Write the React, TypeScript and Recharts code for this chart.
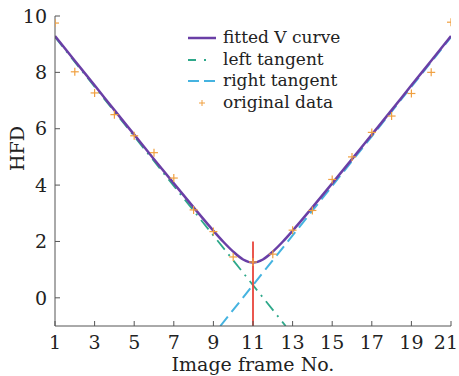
import { ComposedChart, Line, Scatter, XAxis, YAxis, Legend } from 'recharts';

// original HFD measurements per image frame
const frames = [1, 2, 3, 4, 5, 6, 7, 8, 9, 10, 11, 12, 13, 14, 15, 16, 17, 18, 19, 20, 21];
const hfd = [9.75, 8.02, 7.27, 6.5, 5.75, 5.15, 4.25, 3.12, 2.35, 1.45, 1.27, 1.55, 2.4, 3.1, 4.2, 5.0, 5.87, 6.45, 7.25, 8.0, 9.78];

// fitted V curve, sampled
const curveX = [1, 2, 3, 4, 5, 6, 7, 8, 9, 9.5, 10, 10.5, 11, 11.5, 12, 12.5, 13, 14, 15, 16, 17, 18, 19, 20, 21];
const curveY = [9.29, 8.41, 7.54, 6.66, 5.79, 4.92, 4.06, 3.21, 2.38, 1.99, 1.64, 1.36, 1.25, 1.36, 1.64, 1.99, 2.38, 3.21, 4.06, 4.92, 5.79, 6.66, 7.54, 8.41, 9.29];

// tangent end points
const leftTanX = [1, 12.65];
const leftTanY = [9.25, -1];
const rightTanX = [9.35, 21];
const rightTanY = [-1, 9.25];

// best focus marker
const focusX = [11, 11];
const focusY = [-1, 2];

const xTicks = [1, 3, 5, 7, 9, 11, 13, 15, 17, 19, 21];
const yTicks = [0, 2, 4, 6, 8, 10];

const zip = (xs: number[], ys: number[]) => xs.map((x, i) => ({ x, y: ys[i] }));

const points = zip(frames, hfd);
const curve = zip(curveX, curveY);
const leftTan = zip(leftTanX, leftTanY);
const rightTan = zip(rightTanX, rightTanY);
const focus = zip(focusX, focusY);

const FONT = '"DejaVu Serif", serif';
const AXIS = '#555';

const Plus = (props: any) => {
  const { cx, cy } = props;
  return (
    <g stroke="#f0a040" strokeWidth={1.2}>
      <line x1={cx - 4} y1={cy} x2={cx + 4} y2={cy} />
      <line x1={cx} y1={cy - 4} x2={cx} y2={cy + 4} />
    </g>
  );
};

// bottom tick label; the last one is pulled in so it stays on the page
const XTick = (props: any) => {
  const { x, y, payload } = props;
  const last = payload.value === xTicks[xTicks.length - 1];
  return (
    <text
      x={last ? x + 7 : x}
      y={y}
      dy="0.71em"
      textAnchor={last ? 'end' : 'middle'}
      fill="#222"
      fontSize={19}
      fontFamily={FONT}
    >
      {payload.value}
    </text>
  );
};

const legendItems = [
  { label: 'fitted V curve', kind: 'solid' },
  { label: 'left tangent', kind: 'dashdot' },
  { label: 'right tangent', kind: 'dash' },
  { label: 'original data', kind: 'plus' },
];

const LegendBox = () => (
  <div style={{ fontFamily: FONT, fontSize: 17, color: '#222', lineHeight: 1 }}>
    {legendItems.map((it) => (
      <div key={it.label} style={{ display: 'flex', alignItems: 'center', height: 21.5 }}>
        <svg width={35} height={21}>
          {it.kind === 'solid' && <line x1={0} y1={11} x2={28} y2={11} stroke="#6a3fa6" strokeWidth={2.5} />}
          {it.kind === 'dashdot' && (
            <line x1={0} y1={11} x2={28} y2={11} stroke="#2ea88a" strokeWidth={1.8} strokeDasharray="8 8 2 10" />
          )}
          {it.kind === 'dash' && (
            <line x1={0} y1={11} x2={28} y2={11} stroke="#45b3e0" strokeWidth={2} strokeDasharray="11 5" />
          )}
          {it.kind === 'plus' && (
            <g stroke="#f0a040" strokeWidth={1}>
              <line x1={11} y1={11} x2={17} y2={11} />
              <line x1={14} y1={8} x2={14} y2={14} />
            </g>
          )}
        </svg>
        <span>{it.label}</span>
      </div>
    ))}
  </div>
);

export default function App() {
  return (
    <div style={{ position: 'absolute', left: 0, top: 0 }}>
      <ComposedChart width={459} height={376} margin={{ top: 16, right: 8, left: 15, bottom: 20 }}>
        <XAxis
          xAxisId="b"
          dataKey="x"
          type="number"
          domain={[1, 21]}
          ticks={xTicks}
          allowDataOverflow
          height={30}
          stroke={AXIS}
          tickSize={-5}
          tickMargin={15}
          tick={<XTick />}
          label={{ value: 'Image frame No.', position: 'insideBottom', offset: -15, fill: '#222', fontSize: 19, fontFamily: FONT }}
        />
        <XAxis xAxisId="t" orientation="top" type="number" domain={[1, 21]} height={0} tick={false} stroke={AXIS} />
        <YAxis
          yAxisId="l"
          type="number"
          domain={[-1, 10]}
          ticks={yTicks}
          allowDataOverflow
          width={40}
          stroke={AXIS}
          tickSize={-5}
          tickMargin={13}
          tick={{ fill: '#222', fontSize: 19, fontFamily: FONT }}
          label={{ value: 'HFD', angle: -90, position: 'insideLeft', offset: 2, fill: '#222', fontSize: 19, fontFamily: FONT }}
        />
        <YAxis yAxisId="r" orientation="right" type="number" domain={[-1, 10]} width={0} tick={false} stroke={AXIS} />
        <Legend
          layout="horizontal"
          verticalAlign="middle"
          align="center"
          content={<LegendBox />}
          wrapperStyle={{ top: 27, left: 188, width: 200 }}
        />
        <Line xAxisId="b" yAxisId="l" data={leftTan} dataKey="y" stroke="#2ea88a" strokeWidth={1.8} strokeDasharray="12 6 2 6" dot={false} isAnimationActive={false} />
        <Line xAxisId="b" yAxisId="l" data={rightTan} dataKey="y" stroke="#45b3e0" strokeWidth={2} strokeDasharray="12 6" dot={false} isAnimationActive={false} />
        <Line xAxisId="b" yAxisId="l" data={curve} dataKey="y" type="monotone" stroke="#6a3fa6" strokeWidth={2.5} dot={false} isAnimationActive={false} />
        <Line xAxisId="b" yAxisId="l" data={focus} dataKey="y" stroke="#e8453c" strokeWidth={1.8} dot={false} isAnimationActive={false} />
        <Scatter xAxisId="b" yAxisId="l" data={points} dataKey="y" shape={<Plus />} isAnimationActive={false} />
      </ComposedChart>
    </div>
  );
}
